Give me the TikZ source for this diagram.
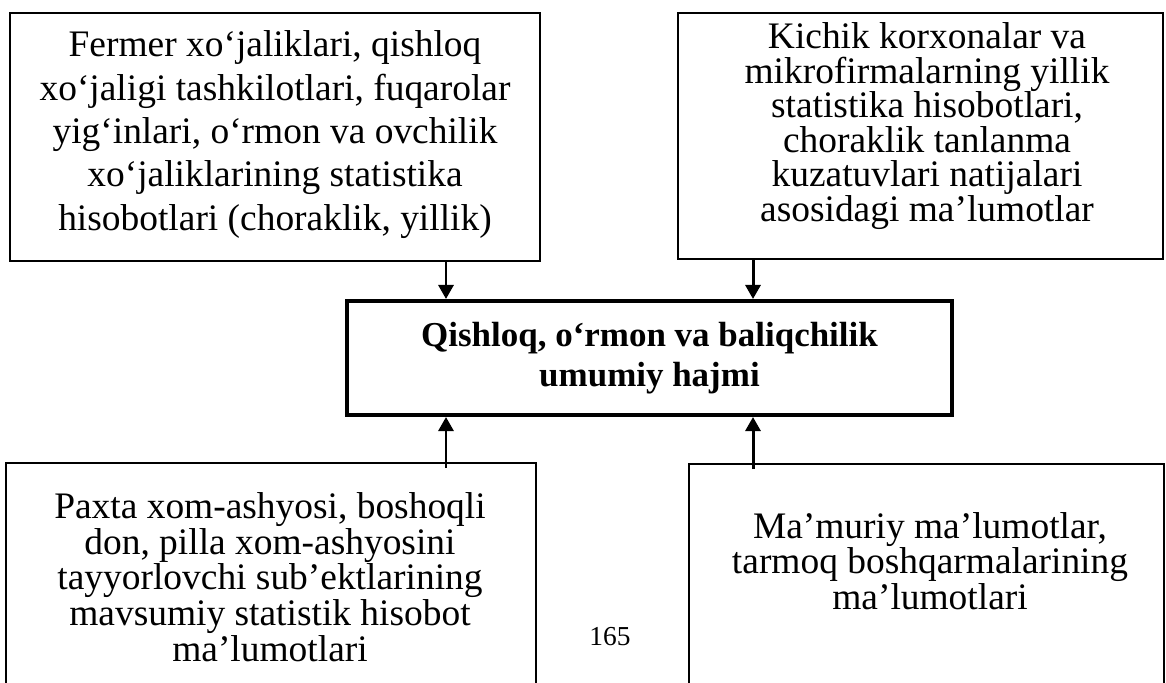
\documentclass[tikz,border=0pt]{standalone}
\usepackage{fontspec}
\setmainfont{Liberation Serif}
\usetikzlibrary{arrows.meta}

\tikzset{
  manba/.style={draw, line width=0.9pt, inner sep=0pt},
  asosiy/.style={draw, line width=2.3pt, inner sep=0pt, align=center,
    font=\fontsize{19.9}{22.8}\selectfont\bfseries},
  matn/.style={align=center, inner sep=0pt},
  strelka/.style={line width=1.7pt, -{Triangle[length=0.28cm,width=0.3cm]}}
}

\begin{document}
\begin{tikzpicture}
        \clip (0,0) rectangle (23.32,13.64);

        % Markaziy blok
        \node[asosiy, minimum width=12.1cm, minimum height=2.28cm] (hajm) at (12.99,6.48)
            {Qishloq, o‘rmon va baliqchilik\\umumiy hajmi};

        % Yuqori chap blok
        \node[manba, minimum width=10.6cm, minimum height=4.96cm] (fermer) at (5.5,10.9) {};
        \node[matn, font=\fontsize{21.3}{24.7}\selectfont] (fermermatn) at (5.5,10.95)
            {Fermer xo‘jaliklari, qishloq\\xo‘jaligi tashkilotlari, fuqarolar\\yig‘inlari, o‘rmon va ovchilik\\xo‘jaliklarining statistika\\hisobotlari (choraklik, yillik)};

        % Yuqori o'ng blok
        \node[manba, minimum width=9.7cm, minimum height=4.92cm] (kichik) at (18.41,10.92) {};
        \node[matn, font=\fontsize{21.3}{19.7}\selectfont] (kichikmatn) at (18.54,11.12)
            {Kichik korxonalar va\\mikrofirmalarning yillik\\statistika hisobotlari,\\choraklik tanlanma\\kuzatuvlari natijalari\\asosidagi ma’lumotlar};

        % Pastki chap blok
        \node[manba, minimum width=10.6cm, minimum height=5.2cm] (paxta) at (5.42,1.78) {};
        \node[matn, font=\fontsize{21.3}{18.8}\selectfont] (paxtamatn) at (5.4,2.1)
            {Paxta xom-ashyosi, boshoqli\\don, pilla xom-ashyosini\\tayyorlovchi sub’ektlarining\\mavsumiy statistik hisobot\\ma’lumotlari};

        % Pastki o'ng blok
        \node[manba, minimum width=9.5cm, minimum height=5.2cm] (mamuriy) at (18.53,1.76) {};
        \node[matn, font=\fontsize{21.3}{20.3}\selectfont] (mamuriymatn) at (18.6,2.42)
            {Ma’muriy ma’lumotlar,\\tarmoq boshqarmalarining\\ma’lumotlari};

        % Strelkalar
        \coordinate (s1) at (8.92,0);
        \coordinate (s2) at (15.06,0);
        \draw[strelka] (s1 |- fermer.south) -- (s1 |- hajm.north);
        \draw[strelka] (s2 |- kichik.south) -- (s2 |- hajm.north);
        \draw[strelka, shorten <=-0.12cm] (s1 |- paxta.north) -- (s1 |- hajm.south);
        \draw[strelka, shorten <=-0.12cm] (s2 |- mamuriy.north) -- (s2 |- hajm.south);

        % Sahifa raqami
        \node[font=\fontsize{15.6}{18}\selectfont] (bet) at (12.2,0.9) {165};
    \end{tikzpicture}
\end{document}
